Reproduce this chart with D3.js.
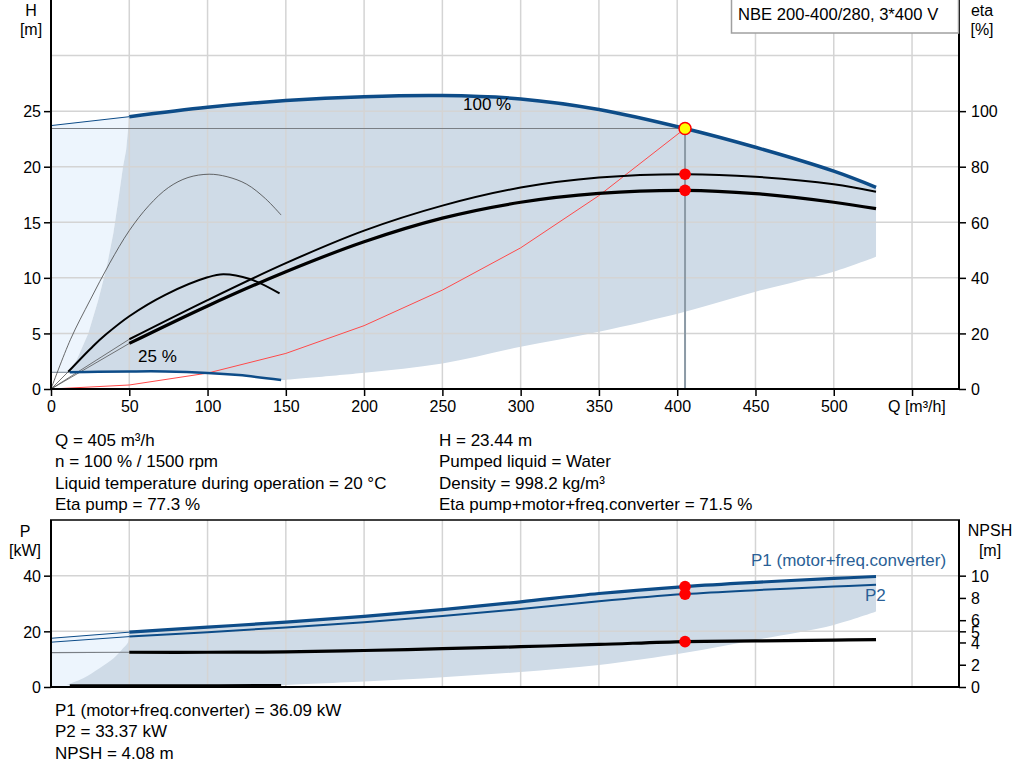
<!DOCTYPE html>
<html>
<head>
<meta charset="utf-8">
<script src="https://cdn.jsdelivr.net/npm/d3@7"></script>
<style>
  html, body { margin: 0; padding: 0; background: #fff; }
  svg { display: block; font-family: "Liberation Sans", Arial, sans-serif; }
</style>
</head>
<body>
<div id="chart"></div>
<script>
// ---- data ----
const qTicks = [0, 50, 100, 150, 200, 250, 300, 350, 400, 450, 500];
const qGrid = [50, 100, 150, 200, 250, 300, 350, 400, 450, 500, 550];
const hTicks = [0, 5, 10, 15, 20, 25];
const hGrid = [5, 10, 15, 20, 25, 30];
const etaTicks = [0, 20, 40, 60, 80, 100];
const pTicks = [0, 20, 40];
const pGrid = [20, 40];
const npshTicks = [0, 2, 4, 5, 6, 8, 10];

// head 100 % speed
const q100 = [50, 100, 150, 200, 250, 300, 350, 405, 450, 500, 527];
const h100 = [24.5, 25.35, 25.95, 26.3, 26.4, 26.1, 25.15, 23.44, 21.75, 19.6, 18.15];
const qExt = [0, 50];
const h100Ext = [23.7, 24.5];
// head 25 % speed
const q25 = [12, 30, 50, 73, 100, 120, 147];
const h25 = [1.5, 1.55, 1.58, 1.58, 1.45, 1.25, 0.82];
const q25Ext = [0, 12];
const h25Ext = [1.5, 1.5];

// efficiency 100 % speed
const qEta = [50, 100, 150, 200, 250, 300, 350, 405, 450, 500, 527];
const etaPump = [17.9, 32, 45.3, 57.0, 66.0, 72.5, 76.1, 77.3, 76.4, 73.7, 71.0];
const etaTotal = [16.4, 29.9, 42.2, 53.0, 61.5, 67.2, 70.4, 71.5, 70.3, 67.2, 64.9];
const etaPumpExt = [0, 17.9];
const etaTotalExt = [0, 16.4];
// efficiency 25 % speed
const qEtaPump25 = [0, 12.5, 25, 37.5, 50, 62.5, 75, 87.5, 101, 112.5, 125, 137, 147];
const etaPump25 = [0, 17.9, 32, 45.3, 57.0, 66.0, 72.5, 76.1, 77.3, 76.4, 73.7, 68.5, 62.6];
const qEtaTot25 = [11, 27, 35, 50, 73, 100, 110, 127, 146];
const etaTotal25 = [6.2, 15.5, 19.6, 26.2, 33.9, 40.2, 41.3, 39.6, 34.4];
const qEtaTot25Ext = [0, 11];
const etaTotal25Ext = [0, 6.2];

// system curve
const qSys = [0, 50, 100, 150, 200, 250, 300, 350, 405];
const hSys = [0, 0.36, 1.43, 3.2, 5.7, 8.9, 12.7, 17.4, 23.44];

// operating range (head chart)
const qRangeLow = [147, 200, 250, 300, 350, 405, 450, 500, 527];
const hRangeLow = [0.8, 1.47, 2.3, 3.8, 5.16, 6.96, 8.76, 10.56, 11.9];
const qRangeLeft = [11.1, 16.4, 23.8, 30.2, 35.6, 39.8, 43, 46, 48, 50];
const hRangeLeft = [1.5, 2.6, 5, 8, 11, 14, 17, 20, 21.5, 24.5];

// power / NPSH
const qP = [50, 100, 150, 200, 250, 300, 350, 405, 450, 500, 527];
const p1 = [19.7, 21.5, 23.3, 25.4, 27.8, 30.6, 33.6, 36.09, 37.6, 39.0, 39.7];
const p2 = [18.1, 19.7, 21.4, 23.3, 25.5, 28.0, 30.8, 33.37, 34.8, 36.1, 36.7];
const npsh = [3.12, 3.12, 3.15, 3.28, 3.44, 3.62, 3.82, 4.08, 4.14, 4.21, 4.26];
const p1Ext = [17.5, 19.7];
const p2Ext = [16.1, 18.1];
const npshExt = [3.09, 3.12];
const q25P = [12, 80, 147];
const npsh25 = [0.12, 0.12, 0.13];
const qPRangeLow = [147, 200, 250, 300, 350, 405, 450, 500, 527];
const pRangeLow = [0.7, 2.0, 3.5, 5.4, 7.9, 12.3, 16.9, 22.3, 27.1];
const qPRangeLeft = [10, 20.6, 31, 40, 46, 49.4, 50];
const pRangeLeft = [0.7, 3.1, 6.7, 10.3, 13.9, 16.3, 19.7];

// duty point
const dutyQ = 405;
const dutyH = 23.44;
const dutyEta = [77.3, 71.5];
const dutyP = [36.09, 33.37];
const dutyNpsh = 4.08;

const title = "NBE 200-400/280, 3*400 V";
const infoLeft = ["Q = 405 m³/h", "n = 100 % / 1500 rpm", "Liquid temperature during operation = 20 °C", "Eta pump = 77.3 %"];
const infoRight = ["H = 23.44 m", "Pumped liquid = Water", "Density = 998.2 kg/m³", "Eta pump+motor+freq.converter = 71.5 %"];
const infoBottom = ["P1 (motor+freq.converter) = 36.09 kW", "P2 = 33.37 kW", "NPSH = 4.08 m"];

// ---- layout ----
const width = 1024, height = 781;
const BLUE = "#0d4c88", LABELBLUE = "#2a5f96", DARK = "#cfdbe7", LIGHT = "#edf5fd", GRID = "#d4d4d4";
const FS = 16;      // ticks, axis titles
const FS_INFO = 17; // info lines, curve labels
const SMOOTH = d3.curveCatmullRom.alpha(0.5);

const svg = d3.select("#chart").append("svg")
    .attr("width", width).attr("height", height);

const x = d3.scaleLinear().domain([0, 580]).range([51, 959]);
const yH = d3.scaleLinear().domain([0, 35]).range([389, 0]);
const yEta = d3.scaleLinear().domain([0, 140]).range([389, 0]);
const yP = d3.scaleLinear().domain([0, 60]).range([687, 520]);
const yN = d3.scaleLinear().domain([0, 15]).range([687, 520]);

const zip = (qs, vs) => qs.map((q, i) => [q, vs[i]]);
const lineGen = (y, curve) => d3.line().x(d => x(d[0])).y(d => y(d[1])).curve(curve || SMOOTH);

function drawLine(g, qs, vs, y, color, w, curve) {
    return g.append("path")
        .attr("d", lineGen(y, curve)(zip(qs, vs)))
        .attr("fill", "none")
        .attr("stroke", color)
        .attr("stroke-width", w)
        .attr("stroke-linejoin", "round");
}

// join several pieces into one closed outline
function outline(y, pieces) {
    return pieces.map((p, i) => {
        const s = lineGen(y, p.curve)(p.pts);
        return i === 0 ? s : "L" + s.slice(1);
    }).join("") + "Z";
}

function grid(g, y, hVals, y0, y1) {
    g.append("g").selectAll("line").data(qGrid).join("line")
        .attr("x1", d => x(d)).attr("x2", d => x(d))
        .attr("y1", y0).attr("y2", y1)
        .attr("stroke", GRID).attr("stroke-width", 1.5);
    g.append("g").selectAll("line").data(hVals).join("line")
        .attr("x1", x(0)).attr("x2", x(580))
        .attr("y1", d => y(d)).attr("y2", d => y(d))
        .attr("stroke", GRID).attr("stroke-width", 1.5);
}

function addText(g, s, tx, ty, anchor, color, size) {
    return g.append("text").attr("x", tx).attr("y", ty)
        .attr("text-anchor", anchor || "start")
        .attr("fill", color || "#000")
        .attr("font-size", size || FS)
        .text(s);
}

// ================= head / eta chart =================
const topG = svg.append("g");

// light area left of operating range
topG.append("path")
    .attr("d", outline(yH, [
        { pts: [[0, h25Ext[0]], [0, h100Ext[0]]], curve: d3.curveLinear },
        { pts: zip(qExt, h100Ext), curve: d3.curveLinear },
        { pts: zip(qRangeLeft, hRangeLeft).reverse(), curve: d3.curveLinear }
    ]))
    .attr("fill", LIGHT);

// operating range
topG.append("path")
    .attr("d", outline(yH, [
        { pts: zip(q100, h100) },
        { pts: [[527, 18.15], [527, 11.9]], curve: d3.curveLinear },
        { pts: zip(qRangeLow, hRangeLow).reverse() },
        { pts: zip(q25, h25).reverse() },
        { pts: zip(qRangeLeft, hRangeLeft), curve: d3.curveLinear }
    ]))
    .attr("fill", DARK);

grid(topG, yH, hGrid, 0, 389);

// duty point guide lines
topG.append("line")
    .attr("x1", x(0)).attr("x2", x(dutyQ))
    .attr("y1", yH(dutyH)).attr("y2", yH(dutyH))
    .attr("stroke", "#7a7f85").attr("stroke-width", 1.2);
topG.append("line")
    .attr("x1", x(dutyQ)).attr("x2", x(dutyQ))
    .attr("y1", yH(dutyH)).attr("y2", yH(0))
    .attr("stroke", "#8c9aa6").attr("stroke-width", 2);

// system curve
drawLine(topG, qSys, hSys, yH, "#ff4a4a", 1, d3.curveLinear);

// thin extensions
drawLine(topG, qExt, h100Ext, yH, BLUE, 1);
drawLine(topG, q25Ext, h25Ext, yH, "#8a96a3", 1.2);
drawLine(topG, qExt, etaPumpExt, yEta, "#555", 0.8);
drawLine(topG, qExt, etaTotalExt, yEta, "#555", 0.8);
drawLine(topG, qEtaTot25Ext, etaTotal25Ext, yEta, "#555", 0.8);

// curves
drawLine(topG, qEtaPump25, etaPump25, yEta, "#444", 0.8);
drawLine(topG, qEtaTot25, etaTotal25, yEta, "#000", 2);
drawLine(topG, q25, h25, yH, BLUE, 2.5);
drawLine(topG, qEta, etaPump, yEta, "#000", 2);
drawLine(topG, qEta, etaTotal, yEta, "#000", 3.2);
drawLine(topG, q100, h100, yH, BLUE, 3.5);

addText(topG, "100 %", 463, 110, "start", "#000", FS_INFO);
addText(topG, "25 %", 138, 362, "start", "#000", FS_INFO);

// duty markers
topG.selectAll("circle.eta").data(dutyEta).join("circle")
    .attr("cx", x(dutyQ)).attr("cy", d => yEta(d)).attr("r", 5.8)
    .attr("fill", "#ff0000");
topG.append("circle")
    .attr("cx", x(dutyQ)).attr("cy", yH(dutyH)).attr("r", 6)
    .attr("fill", "#ffff00").attr("stroke", "#ff0000").attr("stroke-width", 1.5);

// axes
topG.append("line").attr("x1", 51).attr("x2", 51).attr("y1", 0).attr("y2", 390).attr("stroke", "#000").attr("stroke-width", 2);
topG.append("line").attr("x1", 959).attr("x2", 959).attr("y1", 0).attr("y2", 390).attr("stroke", "#000").attr("stroke-width", 2);
topG.append("line").attr("x1", 50).attr("x2", 960).attr("y1", 389).attr("y2", 389).attr("stroke", "#000").attr("stroke-width", 2);

const xAxis = topG.append("g").attr("transform", "translate(0,389)")
    .call(d3.axisBottom(x).tickValues(qTicks.concat([550])).tickSize(7).tickFormat(d => d === 550 ? "" : d));
const yAxisL = topG.append("g").attr("transform", "translate(51,0)")
    .call(d3.axisLeft(yH).tickValues(hTicks).tickSize(7));
const yAxisR = topG.append("g").attr("transform", "translate(959,0)")
    .call(d3.axisRight(yEta).tickValues(etaTicks).tickSize(7));
[xAxis, yAxisL, yAxisR].forEach(a => {
    a.select(".domain").remove();
    a.selectAll(".tick line").attr("stroke", "#000").attr("stroke-width", 1.5);
    a.selectAll(".tick text").attr("font-size", FS).attr("font-family", "Liberation Sans, Arial, sans-serif").attr("fill", "#000");
});
xAxis.selectAll(".tick text").attr("dy", null).attr("y", 23);
yAxisL.selectAll(".tick text").attr("x", -10).attr("dy", "0.36em");
yAxisR.selectAll(".tick text").attr("x", 12).attr("dy", "0.36em");

addText(topG, "H", 31, 16, "middle");
addText(topG, "[m]", 31, 35, "middle");
addText(topG, "eta", 982, 16, "middle");
addText(topG, "[%]", 982, 35, "middle");
addText(topG, "Q [m³/h]", 888, 412);

// title box
topG.append("rect").attr("x", 731.5).attr("y", -1).attr("width", 227).attr("height", 34)
    .attr("fill", "#fff").attr("stroke", "#a0a0a0").attr("stroke-width", 1.5);
addText(topG, title, 738, 20, "start", "#000", 16.6);

// info text
infoLeft.forEach((s, i) => addText(svg, s, 55, 446 + i * 21.4, "start", "#000", FS_INFO));
infoRight.forEach((s, i) => addText(svg, s, 439, 446 + i * 21.4, "start", "#000", FS_INFO));

// ================= power / NPSH chart =================
const botG = svg.append("g");

botG.append("path")
    .attr("d", outline(yP, [
        { pts: [[0, 0], [0, p1Ext[0]]], curve: d3.curveLinear },
        { pts: zip(qExt, p1Ext), curve: d3.curveLinear },
        { pts: [[50, 0]], curve: d3.curveLinear }
    ]))
    .attr("fill", LIGHT);

botG.append("path")
    .attr("d", outline(yP, [
        { pts: zip(qP, p1) },
        { pts: [[527, 39.7], [527, 27.1]], curve: d3.curveLinear },
        { pts: zip(qPRangeLow, pRangeLow).reverse() },
        { pts: [[147, 0.7], [12, 0.7]], curve: d3.curveLinear },
        { pts: zip(qPRangeLeft, pRangeLeft) }
    ]))
    .attr("fill", DARK);

grid(botG, yP, pGrid, 520, 687);

drawLine(botG, qExt, p1Ext, yP, BLUE, 1);
drawLine(botG, qExt, p2Ext, yP, BLUE, 1);
drawLine(botG, qExt, npshExt, yN, "#7a7f85", 1.2);

drawLine(botG, q25P, npsh25, yN, "#000", 3);
drawLine(botG, qP, npsh, yN, "#000", 3.2);
drawLine(botG, qP, p2, yP, BLUE, 2);
drawLine(botG, qP, p1, yP, BLUE, 3.2);

botG.selectAll("circle.p").data(dutyP).join("circle")
    .attr("cx", x(dutyQ)).attr("cy", d => yP(d)).attr("r", 5.8).attr("fill", "#ff0000");
botG.append("circle")
    .attr("cx", x(dutyQ)).attr("cy", yN(dutyNpsh)).attr("r", 5.8).attr("fill", "#ff0000");

botG.append("line").attr("x1", 51).attr("x2", 51).attr("y1", 520).attr("y2", 688).attr("stroke", "#000").attr("stroke-width", 2);
botG.append("line").attr("x1", 959).attr("x2", 959).attr("y1", 520).attr("y2", 688).attr("stroke", "#000").attr("stroke-width", 2);
botG.append("line").attr("x1", 50).attr("x2", 960).attr("y1", 687).attr("y2", 687).attr("stroke", "#000").attr("stroke-width", 2);
botG.append("line").attr("x1", 50).attr("x2", 960).attr("y1", 520).attr("y2", 520).attr("stroke", "#000").attr("stroke-width", 1.5);

const pAxis = botG.append("g").attr("transform", "translate(51,0)")
    .call(d3.axisLeft(yP).tickValues(pTicks).tickSize(7));
const nAxis = botG.append("g").attr("transform", "translate(959,0)")
    .call(d3.axisRight(yN).tickValues(npshTicks).tickSize(7));
[pAxis, nAxis].forEach(a => {
    a.select(".domain").remove();
    a.selectAll(".tick line").attr("stroke", "#000").attr("stroke-width", 1.5);
    a.selectAll(".tick text").attr("font-size", FS).attr("font-family", "Liberation Sans, Arial, sans-serif").attr("fill", "#000").attr("dy", "0.36em");
});
pAxis.selectAll(".tick text").attr("x", -10);
nAxis.selectAll(".tick text").attr("x", 12);

addText(botG, "P", 25, 537, "middle");
addText(botG, "[kW]", 25, 556, "middle");
addText(botG, "NPSH", 990, 536, "middle");
addText(botG, "[m]", 990, 556, "middle");
addText(botG, "P1 (motor+freq.converter)", 751, 566, "start", LABELBLUE, FS_INFO);
addText(botG, "P2", 865, 601, "start", LABELBLUE, FS_INFO);

infoBottom.forEach((s, i) => addText(svg, s, 55, 716 + i * 21.4, "start", "#000", FS_INFO));
</script>
</body>
</html>
